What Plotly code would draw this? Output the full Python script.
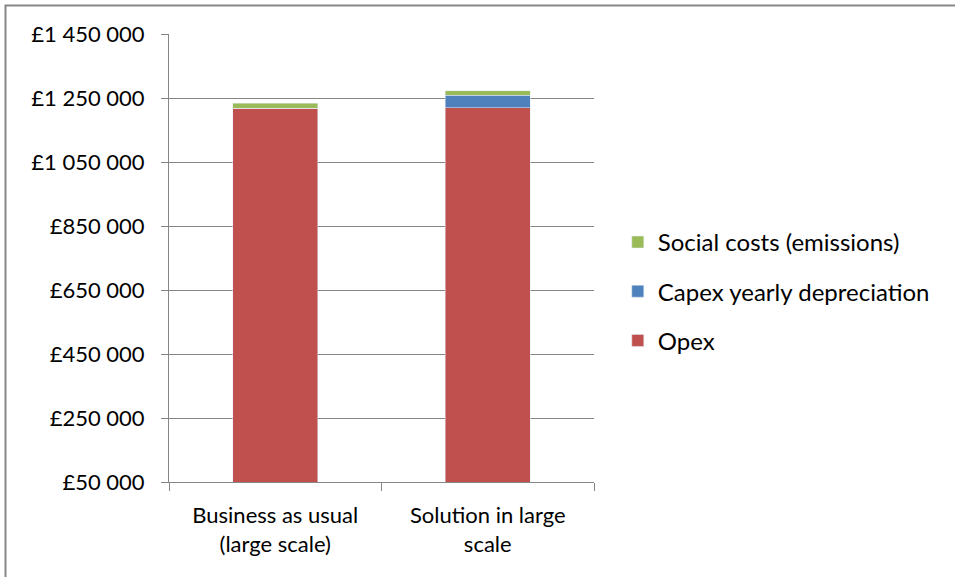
import plotly.graph_objects as go

categories = ["Business as usual<br>(large scale)", "Solution in large<br>scale"]
opex = [1218000, 1220000]
capex = [0, 39000]
social = [15000, 13000]
tick_vals = [50000, 250000, 450000, 650000, 850000, 1050000, 1250000, 1450000]
tick_text = ["£50 000", "£250 000", "£450 000", "£650 000", "£850 000",
             "£1 050 000", "£1 250 000", "£1 450 000"]

FONT = "Lato"
fig = go.Figure()
fig.add_trace(go.Bar(x=categories, y=opex, name="Opex", marker_color="#C0504D",
                     legendgroup="a", legendrank=3, width=0.4))
fig.add_trace(go.Bar(x=categories, y=capex, name="Capex yearly depreciation",
                     marker_color="#4F81BD", legendgroup="b", legendrank=2, width=0.4))
fig.add_trace(go.Bar(x=categories, y=social, name="Social costs (emissions)",
                     marker_color="#9BBB59", legendgroup="c", legendrank=1, width=0.4))

fig.update_layout(
    barmode="stack",
    width=955, height=577,
    margin=dict(l=169, r=361, t=34, b=95),
    paper_bgcolor="white", plot_bgcolor="white",
    font=dict(family=FONT, size=22, color="#000000"),
    legend=dict(x=1.056, y=0.585, xanchor="left", yanchor="top",
                traceorder="grouped", tracegroupgap=15,
                font=dict(family=FONT, size=24), itemwidth=30),
    xaxis=dict(type="category", tickson="boundaries", ticks="outside", ticklen=8,
               tickcolor="#868686", showline=True, linecolor="#868686",
               linewidth=1, range=[-0.5, 1.5], ticklabelstandoff=14),
    yaxis=dict(range=[50000, 1450000], tickvals=tick_vals, ticktext=tick_text,
               ticks="outside", ticklen=7, tickcolor="#868686", showgrid=True,
               gridcolor="#868686", gridwidth=1, showline=True, linecolor="#868686",
               linewidth=1, zeroline=False, ticklabelstandoff=12),
    shapes=[dict(type="rect", xref="paper", yref="paper",
                 x0=-0.3847, x1=2.5, y0=-0.6, y1=1.0636,
                 line=dict(color="#878787", width=2), layer="below")],
)
fig.write_html("out.html", config={"displayModeBar": False},
               post_script="document.body.style.margin='0';")
